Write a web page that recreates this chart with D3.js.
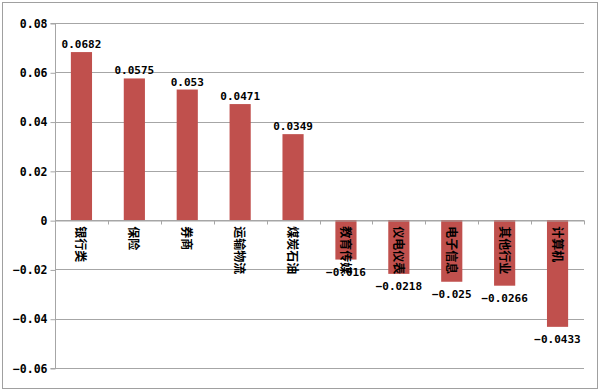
<!DOCTYPE html>
<html><head><meta charset="utf-8">
<script src="https://cdn.jsdelivr.net/npm/d3@7"></script>
<style>body{margin:0;background:#fff}svg{display:block}</style>
</head><body>
<script>
const categories = ["银行类","保险","券商","运输物流","煤炭石油","教育传媒","仪电仪表","电子信息","其他行业","计算机"];
const values = [0.0682,0.0575,0.053,0.0471,0.0349,-0.016,-0.0218,-0.025,-0.0266,-0.0433];
const yTicks = [0.08,0.06,0.04,0.02,0,-0.02,-0.04,-0.06];
const valueLabels = ["0.0682","0.0575","0.053","0.0471","0.0349","−0.016","−0.0218","−0.025","−0.0266","−0.0433"];

(function(){
const W=600,H=391;
const svg=d3.select("body").append("svg").attr("width",W).attr("height",H);
svg.append("rect").attr("x",2.5).attr("y",2.5).attr("width",595).attr("height",386)
  .attr("fill","#fff").attr("stroke","#a0a0a0").attr("stroke-width",1);

const pL=55,pR=584,pT=23,pB=368;
const x=d3.scaleBand().domain(categories).range([pL,pR]).paddingInner(0).paddingOuter(0);
const y=d3.scaleLinear().domain([-0.06,0.08]).range([pB,pT]);
const numFont="'DejaVu Sans Mono', monospace";

svg.append("g").selectAll("line").data(yTicks).join("line")
  .attr("x1",pL).attr("x2",pR)
  .attr("y1",d=>Math.round(y(d))+0.5).attr("y2",d=>Math.round(y(d))+0.5)
  .attr("stroke","#a6a6a6").attr("stroke-width",1);

const yAxis=d3.axisLeft(y).tickValues(yTicks).tickSize(5).tickFormat(d=>d===0?"0":d3.format(".2f")(d).replace("-","−"));
const ya=svg.append("g").attr("transform",`translate(${pL+0.5},0.5)`).call(yAxis);
ya.select(".domain").attr("stroke","#a6a6a6").attr("d",`M-5,${Math.round(y(0.08))}H0V${Math.round(y(-0.06))}H-5`);
ya.selectAll(".tick line").attr("stroke","#a6a6a6");
ya.selectAll(".tick text").attr("x",-8).attr("font-family",numFont).attr("font-size","11.5px").attr("font-weight","bold").attr("fill","#000");

svg.append("g").selectAll("rect").data(values).join("rect")
  .attr("x",(d,i)=>x(categories[i])+x.bandwidth()*0.3)
  .attr("width",x.bandwidth()*0.4)
  .attr("y",d=>y(Math.max(0,d)))
  .attr("height",d=>Math.abs(y(d)-y(0)))
  .attr("fill","#C0504D");

const xAxis=d3.axisBottom(x).tickSize(0).tickFormat("");
const xa=svg.append("g").attr("transform",`translate(0,${Math.round(y(0))+0.5})`).call(xAxis);
xa.select(".domain").attr("stroke","#a6a6a6");
xa.selectAll(".xt").data(categories.concat([null])).join("line").attr("class","xt")
  .attr("x1",(d,i)=>Math.round(pL+i*x.bandwidth())+0.5).attr("x2",(d,i)=>Math.round(pL+i*x.bandwidth())+0.5)
  .attr("y1",0).attr("y2",4).attr("stroke","#a6a6a6");

svg.append("g").selectAll("text").data(categories).join("text")
  .attr("transform",d=>`translate(${x(d)+x.bandwidth()/2-5},${y(0)+6}) rotate(90)`)
  .attr("text-anchor","start").attr("font-size","12px").attr("font-weight","bold")
  .attr("font-family","'Noto Sans CJK SC', sans-serif").attr("fill","#000").text(d=>d);

svg.append("g").selectAll("text").data(values).join("text")
  .attr("x",(d,i)=>x(categories[i])+x.bandwidth()/2)
  .attr("y",d=>d>=0?y(d)-4:y(d)+16)
  .attr("text-anchor","middle").attr("font-family",numFont).attr("font-size","11px").attr("font-weight","bold")
  .attr("fill","#000").text((d,i)=>valueLabels[i]);
})();
</script>
</body></html>
